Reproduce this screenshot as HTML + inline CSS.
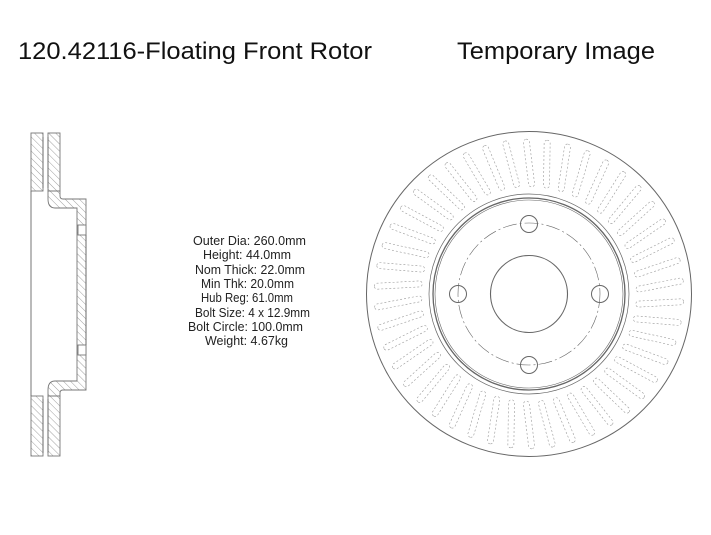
<!DOCTYPE html>
<html><head><meta charset="utf-8"><style>
html,body{margin:0;padding:0;background:#fff;width:711px;height:535px;overflow:hidden}
svg{display:block}
</style></head><body>
<svg id="s" width="711" height="535" viewBox="0 0 711 535" xmlns="http://www.w3.org/2000/svg">
<defs>
<pattern id="h" width="5" height="5" patternUnits="userSpaceOnUse" patternTransform="rotate(-45)">
<line x1="0" y1="0" x2="0" y2="5" stroke="#888" stroke-width="0.8"/>
</pattern>
</defs>
<text x="18" y="59" font-family="Liberation Sans, sans-serif" font-size="24" textLength="354" lengthAdjust="spacingAndGlyphs" fill="#111">120.42116-Floating Front Rotor</text>
<text x="457" y="59" font-family="Liberation Sans, sans-serif" font-size="24" textLength="198" lengthAdjust="spacingAndGlyphs" fill="#111">Temporary Image</text>

<g font-family="Liberation Sans, sans-serif" font-size="12.5" fill="#222">
<text x="193" y="245" textLength="113" lengthAdjust="spacingAndGlyphs">Outer Dia: 260.0mm</text>
<text x="203" y="259" textLength="88" lengthAdjust="spacingAndGlyphs">Height: 44.0mm</text>
<text x="195" y="274" textLength="110" lengthAdjust="spacingAndGlyphs">Nom Thick: 22.0mm</text>
<text x="201" y="288" textLength="93" lengthAdjust="spacingAndGlyphs">Min Thk: 20.0mm</text>
<text x="201" y="302" textLength="92" lengthAdjust="spacingAndGlyphs">Hub Reg: 61.0mm</text>
<text x="195" y="317" textLength="115" lengthAdjust="spacingAndGlyphs">Bolt Size: 4 x 12.9mm</text>
<text x="188" y="331" textLength="115" lengthAdjust="spacingAndGlyphs">Bolt Circle: 100.0mm</text>
<text x="205" y="345" textLength="83" lengthAdjust="spacingAndGlyphs">Weight: 4.67kg</text>
</g>

<!-- side view -->
<g stroke="#777" stroke-width="0.9" fill="url(#h)">
<rect x="31" y="133" width="12" height="58"/>
<rect x="48" y="133" width="12" height="58"/>
<rect x="31" y="396" width="12" height="60"/>
<rect x="48" y="396" width="12" height="60"/>
<path d="M48,191 L60,191 L60,196 Q60,199 63,199 L86,199 L86,390 L63,390 Q60,390 60,393 L60,396 L48,396 L48,390 Q48,381 55,381 L77,381 L77,208 L55,208 Q48,208 48,199 Z"/>
</g>
<g stroke="#777" stroke-width="0.9" fill="#fff">
<rect x="78" y="225" width="8" height="10"/>
<rect x="78" y="345" width="8" height="10"/>
</g>
<g stroke="#666" stroke-width="0.9" fill="none">
<line x1="43" y1="137" x2="43" y2="188"/><line x1="48" y1="137" x2="48" y2="188"/>
<line x1="43" y1="399" x2="43" y2="453"/><line x1="48" y1="399" x2="48" y2="453"/>
<line x1="31" y1="191" x2="31" y2="396"/>
<line x1="86" y1="235" x2="86" y2="345"/>
</g>

<!-- face view -->
<g fill="none" stroke="#666">
<circle cx="529" cy="294" r="162.5" stroke-width="1"/>
<circle cx="529" cy="294" r="100" stroke-width="0.7"/>
<circle cx="529" cy="294" r="96" stroke-width="1.3"/>
<circle cx="529" cy="294" r="94" stroke-width="0.6"/>
<circle cx="529" cy="294" r="71" stroke-width="0.6" stroke-dasharray="14 3 2 3"/>
<circle cx="529" cy="294" r="38.5" stroke-width="1.1"/>
<circle cx="529" cy="224" r="8.5" stroke-width="1"/>
<circle cx="529" cy="365" r="8.5" stroke-width="1"/>
<circle cx="458" cy="294" r="8.5" stroke-width="1"/>
<circle cx="600" cy="294" r="8.5" stroke-width="1"/>
<g id="slots" stroke="#999" stroke-width="0.6" stroke-dasharray="2 2"></g>
</g>
</svg>
<script>
var g=document.getElementById('slots'),n=46,ns='http://www.w3.org/2000/svg';
for(var i=0;i<n;i++){var a=360*i/n;
var r=document.createElementNS(ns,'rect');
r.setAttribute('x',-3);r.setAttribute('y',-155);r.setAttribute('width',6);r.setAttribute('height',48);
r.setAttribute('rx',3);
r.setAttribute('transform','translate(529,294) rotate('+a+') translate(0,-131) rotate(-7) translate(0,131)');
g.appendChild(r);}
</script>
</body></html>
